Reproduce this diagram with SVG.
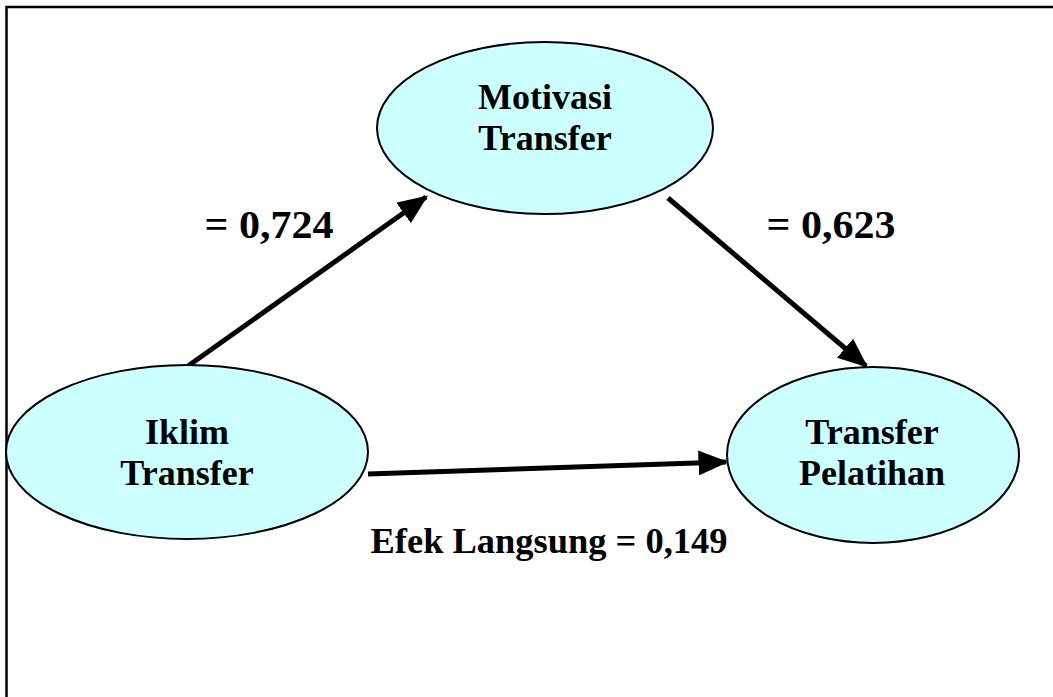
<svg xmlns="http://www.w3.org/2000/svg" width="1053" height="697" viewBox="0 0 1053 697">
<style>
.node{fill:#ccffff;stroke:#000;stroke-width:2}
.lbl{font-family:"Liberation Serif","Times New Roman",serif;font-weight:bold;font-size:36px;fill:#000;text-anchor:middle}
.big{font-family:"Liberation Serif","Times New Roman",serif;font-weight:bold;font-size:40px;fill:#000;text-anchor:middle}
.edge{stroke:#000;stroke-width:5;fill:none;marker-end:url(#ah)}
</style>
<defs>
<marker id="ah" viewBox="0 0 12 10" refX="11" refY="5" markerWidth="6" markerHeight="5" markerUnits="strokeWidth" orient="auto">
<path d="M0,0 L12,5 L0,10 z" fill="#000"/>
</marker>
</defs>
<rect width="1053" height="697" fill="#fff"/>
<rect x="6.5" y="7" width="1060" height="710" fill="none" stroke="#000" stroke-width="2.5"/>
<g id="connectors">
<line class="edge" x1="188" y1="366" x2="426" y2="197"/>
<line class="edge" x1="668" y1="198" x2="866" y2="366"/>
<line class="edge" x1="368" y1="474" x2="726" y2="462"/>
</g>
<g id="motivasi">
<ellipse class="node" cx="545" cy="128" rx="168" ry="86"/>
<text class="lbl" x="545" y="109">Motivasi</text>
<text class="lbl" x="545" y="150">Transfer</text>
</g>
<g id="iklim">
<ellipse class="node" cx="187" cy="452" rx="181" ry="87"/>
<text class="lbl" x="187" y="444">Iklim</text>
<text class="lbl" x="187" y="485">Transfer</text>
</g>
<g id="pelatihan">
<ellipse class="node" cx="873" cy="455" rx="146" ry="88"/>
<text class="lbl" x="872" y="444">Transfer</text>
<text class="lbl" x="872" y="485">Pelatihan</text>
</g>
<g id="labels">
<text class="big" x="269" y="238" textLength="129" lengthAdjust="spacingAndGlyphs">= 0,724</text>
<text class="big" x="831" y="238" textLength="129" lengthAdjust="spacingAndGlyphs">= 0,623</text>
<text class="lbl" x="549" y="553" textLength="357" lengthAdjust="spacingAndGlyphs">Efek Langsung = 0,149</text>
</g>
</svg>
